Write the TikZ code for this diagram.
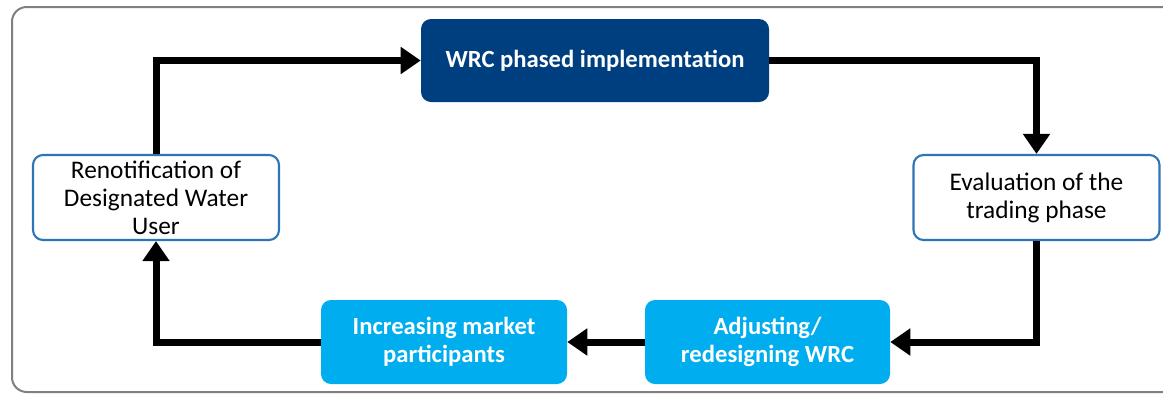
\documentclass[tikz,border=0pt]{standalone}
\usepackage{fontspec}
\setmainfont{Carlito}
\usetikzlibrary{arrows.meta}
\definecolor{dkblue}{HTML}{003F7F}
\definecolor{ltblue}{HTML}{00AEEF}
\definecolor{edgeblue}{HTML}{2E75B6}
\definecolor{framegray}{HTML}{808080}
\begin{document}
\begin{tikzpicture}[x=0.75pt,y=-0.75pt,
  box/.style={rounded corners=7.5pt, align=center, inner sep=0pt,
    font=\fontsize{19}{21}\selectfont},
  darkbox/.style={box, fill=dkblue, text=white, font=\fontsize{18.5}{21}\selectfont\bfseries},
  lightbox/.style={box, fill=ltblue, text=white, font=\fontsize{18.5}{21}\selectfont\bfseries},
  outbox/.style={box, draw=edgeblue, line width=1.6pt, fill=white, text=black},
  conn/.style={line width=5.25pt, -{Triangle[length=15pt,width=19.5pt]}}]
\useasboundingbox (0,0) rectangle (1163,394);
\clip (0,0) rectangle (1163,394);
\draw[framegray, line width=1.5pt, rounded corners=11pt] (12,7) rectangle (1180,392);
\node[darkbox, minimum width=261pt, minimum height=62.25pt] (wrc) at (595,60.5) {WRC phased implementation};
\node[outbox, minimum width=184.5pt, minimum height=63.75pt] (reno) at (156,197.5) {Renotification of\\Designated Water\\User};
\node[outbox, minimum width=184.5pt, minimum height=63.75pt] (eval) at (1036.5,197.5) {Evaluation of the\\trading phase};
\node[lightbox, minimum width=184.5pt, minimum height=63pt] (inc) at (444,342) {Increasing market\\participants};
\node[lightbox, minimum width=183.75pt, minimum height=63pt] (adj) at (767.5,342) {Adjusting/\\redesigning WRC};
\draw[conn] (reno.north) |- (wrc.west);
\draw[conn] (wrc.east) -| (eval.north);
\draw[conn] (eval.south) |- (adj.east);
\draw[conn] (adj.west) -- (inc.east);
\draw[conn] (inc.west) -| (reno.south);
\end{tikzpicture}
\end{document}
